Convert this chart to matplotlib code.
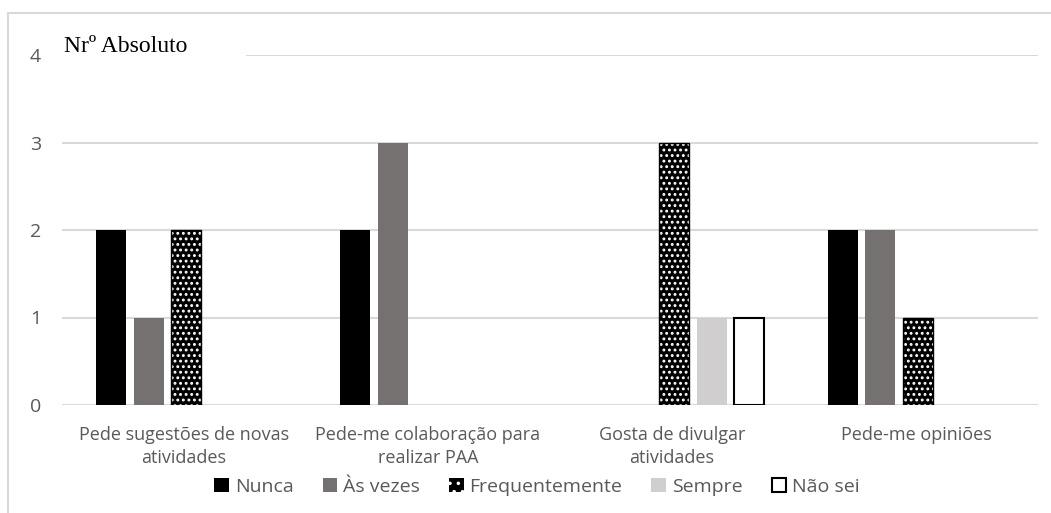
import numpy as np
import matplotlib.pyplot as plt
from matplotlib.patches import Rectangle

categories = ['Pede sugestões de novas\natividades', 'Pede-me colaboração para\nrealizar PAA',
              'Gosta de divulgar\natividades', 'Pede-me opiniões']
series = ['Nunca', 'Às vezes', 'Frequentemente', 'Sempre', 'Não sei']
nunca = [2, 2, 0, 2]
as_vezes = [1, 3, 0, 2]
frequentemente = [2, 0, 3, 1]
sempre = [0, 0, 1, 0]
nao_sei = [0, 0, 1, 0]
values = [nunca, as_vezes, frequentemente, sempre, nao_sei]

plt.rcParams['hatch.linewidth'] = 1.3

fig = plt.figure(figsize=(10.51, 5.13), dpi=100)
W, H = 1051, 513
ax = fig.add_axes([62 / W, 1 - 405 / H, (1038 - 62) / W, (405 - 55) / H])

# outer chart frame
fig.patches.append(Rectangle((8 / W, -0.1), 1.2, 1 - 13 / H + 0.1, transform=fig.transFigure,
                             fill=False, edgecolor='#d9d9d9', linewidth=1.5, zorder=0))

x = np.arange(len(categories))
w = 30 / 244
step = 37.5 / 244
styles = [
    dict(color='black'),
    dict(color='#767171'),
    None,
    dict(color='#d0cece'),
    dict(facecolor='white', edgecolor='black', linewidth=1.5),
]
handles = []
for i, (name, vals) in enumerate(zip(series, values)):
    vals = np.array(vals)
    keep = vals > 0
    pos = (x + (i - 2) * step + 2 / 244)[keep]
    vals = vals[keep]
    if i == 2:
        ax.bar(pos, vals, w, facecolor='black', edgecolor='white', hatch='...', linewidth=0, zorder=3)
        ax.bar(pos, vals, w, fill=False, edgecolor='black', linewidth=1.0, zorder=4)
        h = ax.bar([0], [0], facecolor='black', edgecolor='white', hatch='..', linewidth=0)
        handles.append(h)
    else:
        h = ax.bar(pos, vals, w, zorder=3, **styles[i])
        handles.append(h)

ax.set_xlim(-0.5, 3.5)
ax.set_ylim(0, 4)
ax.set_yticks([0, 1, 2, 3, 4])
ax.set_xticks(x)
ax.set_xticklabels(categories, fontsize=13, color='#595959', family='Open Sans', linespacing=1.4)
ax.tick_params(axis='y', labelsize=14, labelcolor='#595959', length=0, pad=15)
ax.tick_params(axis='x', length=0, pad=15)
for lab in ax.get_yticklabels():
    lab.set_family('Open Sans')
ax.grid(axis='y', color='#d9d9d9', linewidth=1.5, zorder=0)
ax.set_axisbelow(True)
for s in ax.spines.values():
    s.set_visible(False)

# white box behind the unit label, hiding the top gridline
fig.patches.append(Rectangle((60 / W, 1 - 62 / H), (246 - 60) / W, 24 / H, transform=fig.transFigure,
                             facecolor='white', edgecolor='none', zorder=3))
fig.text(64 / W, 1 - 47 / H, 'Nrº Absoluto', fontsize=17, family='Liberation Serif',
         va='center', ha='left', zorder=5)

leg = fig.legend(handles, series, loc='center', bbox_to_anchor=(537 / W, 1 - 487 / H), ncol=5,
                 frameon=False, prop={'family': 'Open Sans', 'size': 14}, handlelength=0.75,
                 handleheight=0.75, handletextpad=0.3, columnspacing=1.5)
for t in leg.get_texts():
    t.set_color('#595959')

fig.savefig('out.png', dpi=100)
